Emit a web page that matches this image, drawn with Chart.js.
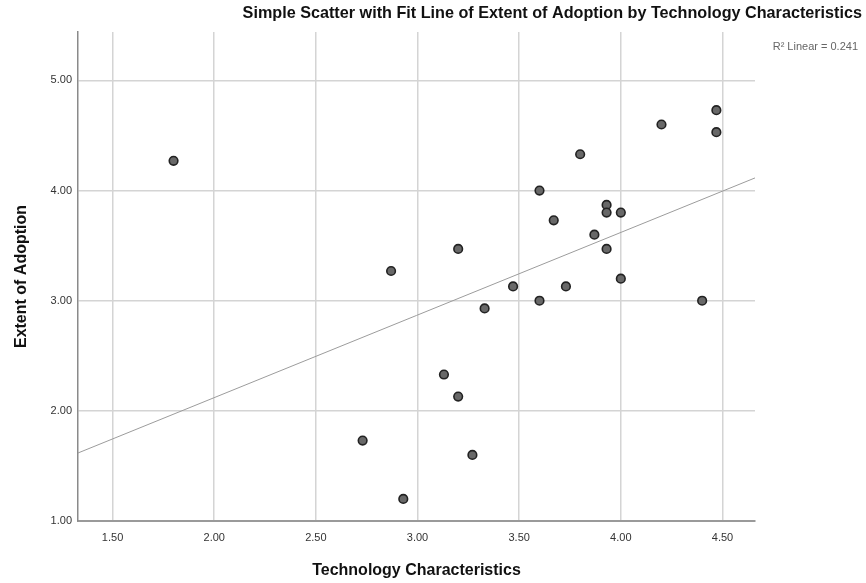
<!DOCTYPE html>
<html>
<head>
<meta charset="utf-8">
<script src="https://cdn.jsdelivr.net/npm/chart.js@4"></script>
<style>
    html, body { margin: 0; padding: 0; background: #fff; }
    #wrap { width: 866px; height: 583px; }
</style>
</head>
<body>
<div id="wrap"><canvas id="chart" width="866" height="583"></canvas></div>
<script>
// Data
const techChars = [1.80, 2.73, 2.87, 2.93, 3.13, 3.20, 3.20, 3.27, 3.33, 3.47, 3.60, 3.60, 3.67,
    3.73, 3.80, 3.87, 3.93, 3.93, 4.00, 3.93, 4.00, 4.20, 4.40, 4.47, 4.47];
const adoption = [4.27, 1.73, 3.27, 1.20, 2.33, 2.13, 3.47, 1.60, 2.93, 3.13, 3.00, 4.00, 3.73,
    3.13, 4.33, 3.60, 3.87, 3.80, 3.80, 3.47, 3.20, 4.60, 3.00, 4.73, 4.53];

// fit line as drawn in the picture (a refit of the read points drifts a little,
// some points probably overlap)
const fitIntercept = 0.62;
const fitSlope = 0.75;

const xTicks = [1.5, 2.0, 2.5, 3.0, 3.5, 4.0, 4.5];
const yTicks = [1, 2, 3, 4, 5];
const xRange = [1.33, 4.66];
const yRange = [1.0, 5.44];

const chartTitle = 'Simple Scatter with Fit Line of Extent of Adoption by Technology Characteristics';
const xTitle = 'Technology Characteristics';
const yTitle = 'Extent of Adoption';
const fitLabel = 'R\u00B2 Linear = 0.241';

const FONT = '"Liberation Sans", Arial, Helvetica, sans-serif';

const points = techChars.map((x, i) => ({ x, y: adoption[i] }));
const fitLine = xRange.map(x => ({ x, y: fitIntercept + fitSlope * x }));

// title + R² text
const textPlugin = {
    id: 'textPlugin',
    afterDraw(chart) {
        const { ctx } = chart;
        ctx.save();
        ctx.textAlign = 'right';
        ctx.textBaseline = 'middle';
        ctx.fillStyle = '#111';
        ctx.font = `bold 16.2px ${FONT}`;
        ctx.fillText(chartTitle, 862, 14);
        ctx.fillStyle = '#666';
        ctx.font = `11px ${FONT}`;
        ctx.fillText(fitLabel, 858, 47);
        ctx.restore();
    }
};

const fixTicks = (values) => (scale) => {
    scale.ticks = values.map(v => ({ value: v }));
};

new Chart(document.getElementById('chart'), {
    type: 'scatter',
    data: {
        datasets: [
            {
                data: points,
                backgroundColor: '#686868',
                borderColor: '#222',
                borderWidth: 1.6,
                pointRadius: 4.3,
                order: 1
            },
            {
                type: 'line',
                data: fitLine,
                borderColor: '#9c9c9c',
                borderWidth: 1,
                pointRadius: 0,
                fill: false,
                order: 2
            }
        ]
    },
    options: {
        responsive: false,
        animation: false,
        layout: {
            padding: { left: 0, right: 111, top: 32, bottom: 0 }
        },
        plugins: {
            legend: { display: false },
            tooltip: { enabled: false },
            title: { display: false }
        },
        scales: {
            x: {
                type: 'linear',
                min: xRange[0],
                max: xRange[1],
                afterBuildTicks: fixTicks(xTicks),
                afterFit: (scale) => { scale.height = 62; },
                grid: { color: '#d4d4d4', lineWidth: 1.5, drawTicks: false },
                border: { color: '#9a9a9a', width: 2 },
                ticks: {
                    padding: 10,
                    color: '#333',
                    font: { family: FONT, size: 11 },
                    callback: (v) => Number(v).toFixed(2)
                },
                title: {
                    display: true,
                    text: xTitle,
                    color: '#111',
                    font: { family: FONT, size: 16, weight: 'bold' },
                    padding: { top: 0, bottom: 3 }
                }
            },
            y: {
                type: 'linear',
                min: yRange[0],
                max: yRange[1],
                afterBuildTicks: fixTicks(yTicks),
                afterFit: (scale) => { scale.width = 78; },
                grid: { color: '#d4d4d4', lineWidth: 1.5, drawTicks: false },
                border: { color: '#8a8a8a', width: 1.5 },
                ticks: {
                    padding: 6,
                    color: '#333',
                    font: { family: FONT, size: 11 },
                    callback: (v) => Number(v).toFixed(2)
                },
                title: {
                    display: true,
                    text: yTitle,
                    color: '#111',
                    font: { family: FONT, size: 16, weight: 'bold' },
                    padding: { top: 12, bottom: 0 }
                }
            }
        }
    },
    plugins: [textPlugin]
});
</script>
</body>
</html>
